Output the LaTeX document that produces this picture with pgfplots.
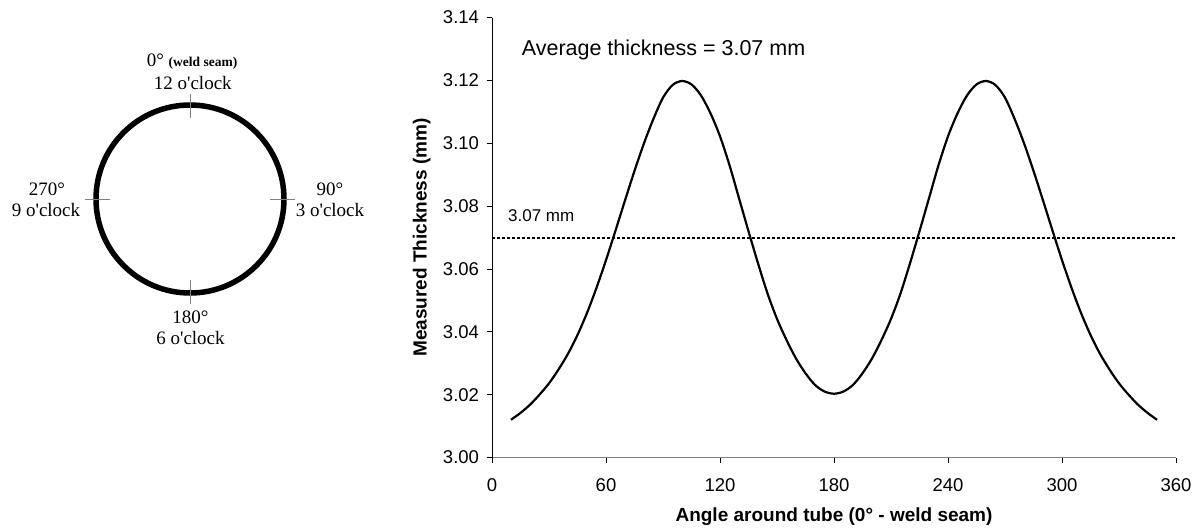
\documentclass[border=0pt]{standalone}
\usepackage{fontspec}
\setmainfont{Liberation Sans}
\newfontfamily\seriffont{Liberation Serif}
\usepackage{pgfplots}
\pgfplotsset{compat=1.18}
\usepackage{pgfplotstable}

\pgfplotstableread{
x y
10 3.0120
15 3.0142
20 3.0168
25 3.0200
30 3.0236
35 3.0280
40 3.0330
45 3.0390
50 3.0460
55 3.0540
60 3.0628
65 3.0722
70 3.0818
75 3.0912
80 3.1000
85 3.1078
90 3.1145
95 3.1185
100 3.1198
105 3.1187
110 3.1152
115 3.1095
120 3.1022
125 3.0930
130 3.0825
135 3.0720
140 3.0618
145 3.0522
150 3.0441
155 3.0374
160 3.0315
165 3.0268
170 3.0231
175 3.0210
180 3.0203
185 3.0210
190 3.0231
195 3.0268
200 3.0315
205 3.0374
210 3.0441
215 3.0522
220 3.0618
225 3.0720
230 3.0825
235 3.0930
240 3.1022
245 3.1095
250 3.1152
255 3.1187
260 3.1198
265 3.1185
270 3.1145
275 3.1078
280 3.1000
285 3.0912
290 3.0818
295 3.0722
300 3.0628
305 3.0540
310 3.0460
315 3.0390
320 3.0330
325 3.0280
330 3.0236
335 3.0200
340 3.0168
345 3.0142
350 3.0120
}\thick

\begin{document}
\begin{tikzpicture}
\path[use as bounding box] (0,0) rectangle (1199bp,-529bp);

% tube cross-section diagram
\draw[line width=5.5bp] (190bp,-199bp) circle[radius=94bp];
\draw[gray, line width=1bp] (85bp,-199bp)--(110bp,-199bp);
\draw[gray, line width=1bp] (270bp,-199bp)--(295bp,-199bp);
\draw[gray, line width=1bp] (190bp,-94bp)--(190bp,-118bp);
\draw[gray, line width=1bp] (190bp,-280bp)--(190bp,-304bp);
\begin{scope}[every node/.style={inner sep=0pt, font=\seriffont\fontsize{19bp}{21bp}\selectfont}]
\node[anchor=base west] at (146.7bp,-66.7bp) {0°~{\bfseries\fontsize{13.5bp}{15bp}\selectfont (weld seam)}};
\node[anchor=base] at (192.8bp,-89.3bp) {12 o'clock};
\node[anchor=base] at (47bp,-195bp) {270°};
\node[anchor=base] at (46bp,-216.7bp) {9 o'clock};
\node[anchor=base] at (330bp,-195bp) {90°};
\node[anchor=base] at (330bp,-216.7bp) {3 o'clock};
\node[anchor=base] at (190.4bp,-323.3bp) {180°};
\node[anchor=base] at (190.5bp,-344.3bp) {6 o'clock};
\end{scope}

\begin{axis}[
  at={(492bp,-457.5bp)}, anchor=south west,
  scale only axis, width=684bp, height=440bp,
  xmin=0, xmax=360, ymin=3, ymax=3.14,
  axis lines=left,
  axis line style={-},
  x axis line style={draw=gray, line width=1.5bp},
  y axis line style={draw=black, line width=1bp},
  tick align=outside,
  major tick length=5.5bp,
  tick style={black, line width=0.8bp},
  xtick={0,60,120,180,240,300,360},
  ytick={3,3.02,3.04,3.06,3.08,3.10,3.12,3.14},
  /pgf/number format/assume math mode=true,
  yticklabel style={xshift=-4bp, /pgf/number format/fixed, /pgf/number format/fixed zerofill, /pgf/number format/precision=2},
  xticklabel style={yshift=-12bp},
  tick label style={font=\fontsize{18.5bp}{20bp}\selectfont},
  xlabel={Angle around tube (0° - weld seam)},
  ylabel={Measured Thickness (mm)},
  every axis x label/.style={at={(axis description cs:0.5,-0.1352)}, anchor=center, font=\bfseries\fontsize{19bp}{22bp}\selectfont},
  every axis y label/.style={at={(axis description cs:-0.1028,0.5)}, rotate=90, anchor=center, font=\bfseries\fontsize{19bp}{22bp}\selectfont},
  clip=false,
]
\addplot[black, dash pattern=on 2.5bp off 2.5bp, line width=2bp] coordinates {(0,3.07) (360,3.07)};
\addplot[black, line width=2.2bp, smooth] table[x=x, y=y] {\thick};
\node[anchor=base west, inner sep=0pt, font=\fontsize{21.5bp}{24bp}\selectfont] at (axis cs:15.6,3.128) {Average thickness = 3.07 mm};
\node[anchor=base west, inner sep=0pt, font=\fontsize{17bp}{19bp}\selectfont] at (axis cs:8.4,3.0752) {3.07 mm};
\end{axis}
\end{tikzpicture}
\end{document}
